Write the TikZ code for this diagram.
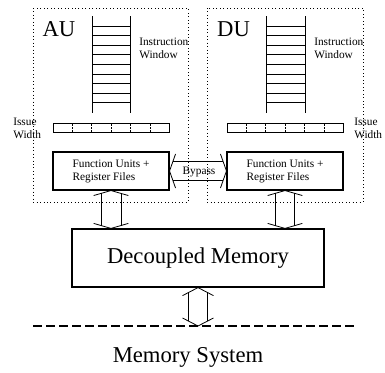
\documentclass[tikz,border=0pt]{standalone}
\usepackage{fontspec}
\setmainfont{Liberation Serif}
\usetikzlibrary{calc}

% hollow two-headed arrow between two tips:
% #3 head length, #4 head half width, #5 shaft half width (all in pt)
\newcommand{\hollowarrow}[5]{%
  \pgfmathsetmacro\shaftstart{#3*#5/#4}
  \coordinate (ha) at ($(#1)!#3pt!(#2)$);
  \coordinate (hb) at ($(#2)!#3pt!(#1)$);
  \coordinate (sa) at ($(#1)!\shaftstart pt!(#2)$);
  \coordinate (sb) at ($(#2)!\shaftstart pt!(#1)$);
  \draw [arrowline] ($(ha)!#4pt!90:(#2)$) -- (#1) -- ($(ha)!#4pt!-90:(#2)$);
  \draw [arrowline] ($(hb)!#4pt!90:(#1)$) -- (#2) -- ($(hb)!#4pt!-90:(#1)$);
  \draw [arrowline] ($(sa)!#5pt!90:(#2)$) -- ($(sb)!#5pt!-90:(#1)$);
  \draw [arrowline] ($(sa)!#5pt!-90:(#2)$) -- ($(sb)!#5pt!90:(#1)$);
}

\tikzset{
  arrowline/.style={line width=0.6pt},
  unitframe/.style={dotted, line width=0.6pt},
  unitlabel/.style={font=\fontsize{17}{20}\selectfont, inner sep=0pt},
  smalltext/.style={font=\fontsize{8.5}{9.75}\selectfont, align=left, inner sep=0pt},
  issuebar/.style={draw, line width=0.6pt, minimum width=87pt, minimum height=6.75pt, inner sep=0pt},
  divider/.style={line width=0.5pt, dash pattern=on 1.5pt off 1pt},
  fubox/.style={draw, line width=0.8pt, minimum width=87pt, minimum height=28.5pt, inner sep=0pt,
    font=\fontsize{8.5}{9.75}\selectfont, align=left},
  membox/.style={draw, line width=0.9pt, minimum width=189pt, minimum height=43.5pt, inner sep=0pt,
    font=\fontsize{17}{20}\selectfont},
  busline/.style={line width=1.5pt, dash pattern=on 6.5pt off 3.25pt}
}

\begin{document}
\begin{tikzpicture}[x=0.75pt, y=-0.75pt]
		\useasboundingbox (0,0) rectangle (385,372);
		% the two units
		\draw [unitframe] (33,8) rectangle (188,202);
		\draw [unitframe] (207,8) rectangle (363,202);
		\node [unitlabel] (au) at (59,29) {AU};
		\node [unitlabel] (du) at (233.5,29) {DU};
		% instruction windows
		\draw [line width=0.6pt] (92,16) -- (92,113);
		\draw [line width=0.6pt] (130,16) -- (130,113);
		\foreach \y in {26,35.6,...,104}
			\draw [line width=0.6pt] (92,\y) -- (130,\y);
		\draw [line width=0.6pt] (266,16) -- (266,113);
		\draw [line width=0.6pt] (305,16) -- (305,113);
		\foreach \y in {26,35.6,...,104}
			\draw [line width=0.6pt] (266,\y) -- (305,\y);
		\node [smalltext, anchor=west] (iwA) at (139,48.5) {Instruction\\Window};
		\node [smalltext, anchor=west] (iwD) at (314,48.5) {Instruction\\Window};
		% issue width
		\node [issuebar] (ibA) at (111,127.5) {};
		\node [issuebar] (ibD) at (285,127.5) {};
		\foreach \k in {1,...,5} {
			\draw [divider] ($(ibA.south west)!\k/6!(ibA.south east)$) -- ($(ibA.north west)!\k/6!(ibA.north east)$);
			\draw [divider] ($(ibD.south west)!\k/6!(ibD.south east)$) -- ($(ibD.north west)!\k/6!(ibD.north east)$);
		}
		\node [smalltext, anchor=west] (iwdA) at (13,128.5) {Issue\\Width};
		\node [smalltext, anchor=west] (iwdD) at (354,128.5) {Issue\\Width};
		% function units
		\node [fubox] (fuA) at (111,171) {Function Units +\\Register Files};
		\node [fubox] (fuD) at (285,171) {Function Units +\\Register Files};
		\hollowarrow{fuA.east}{fuD.west}{4.5}{12.75}{7}
		\node [smalltext] (bypass) at (199,172) {Bypass};
		% memory
		\node [membox] (dmem) at (198,258) {Decoupled Memory};
		\hollowarrow{fuA.south}{fuA.south |- dmem.north}{3.75}{13}{7.5}
		\hollowarrow{fuD.south}{fuD.south |- dmem.north}{3.75}{13}{7.2}
		\draw [busline] (33,326) -- (358,326);
		\coordinate (busmid) at (198,326);
		\hollowarrow{dmem.south}{busmid}{6}{11.6}{7}
		\node [unitlabel] (msys) at (188,357) {Memory System};
	\end{tikzpicture}
\end{document}
